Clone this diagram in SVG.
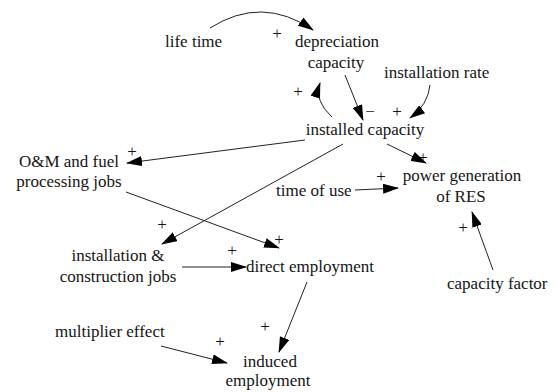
<svg xmlns="http://www.w3.org/2000/svg" width="558" height="392" viewBox="0 0 558 392">
  <style>
    text { font-family: 'Liberation Serif', 'Times New Roman', serif; font-size: 17px; fill: #151515; }
    .lbl { text-anchor: middle; }
    .sign { text-anchor: middle; }
    .link { fill: none; stroke: #222; stroke-width: 1; marker-end: url(#head); }
  </style>
  <defs>
    <marker id="head" markerUnits="userSpaceOnUse" markerWidth="16" markerHeight="10" viewBox="0 0 16 10" refX="15" refY="5" orient="auto">
      <path d="M0,0 L16,5 L0,10 Z" fill="#000"/>
    </marker>
  </defs>

  <!-- causal links -->
  <g id="connectors">
    <path class="link" d="M210,28 Q262,-5 313,30"/>
    <path class="link" d="M332,117 Q314,101 320,83"/>
    <path class="link" d="M345,75 L363,120"/>
    <path class="link" d="M430,85 Q428,105 410,118"/>
    <path class="link" d="M305,140 L127,163"/>
    <path class="link" d="M343,144 L162,244"/>
    <path class="link" d="M387,144 L426,163"/>
    <path class="link" d="M355,190 L398,188"/>
    <path class="link" d="M126,192 L279,248"/>
    <path class="link" d="M182,267 L246,267"/>
    <path class="link" d="M307,282 L279,352"/>
    <path class="link" d="M161,346 L227,363"/>
    <path class="link" d="M493,270 L472,212"/>
  </g>

  <!-- polarity signs -->
  <g id="polarities">
    <text class="sign" x="277" y="39">+</text>
    <text class="sign" x="298" y="97">+</text>
    <text class="sign" x="370" y="117">−</text>
    <text class="sign" x="397" y="117">+</text>
    <text class="sign" x="132" y="157">+</text>
    <text class="sign" x="162" y="230">+</text>
    <text class="sign" x="423" y="163">+</text>
    <text class="sign" x="381" y="182">+</text>
    <text class="sign" x="279" y="245">+</text>
    <text class="sign" x="232" y="256">+</text>
    <text class="sign" x="265" y="332">+</text>
    <text class="sign" x="220" y="347">+</text>
    <text class="sign" x="463" y="233">+</text>
  </g>

  <!-- variables -->
  <g id="life-time"><text x="165" y="47">life time</text></g>
  <g id="depreciation-capacity">
    <text class="lbl" x="337" y="47">depreciation</text>
    <text class="lbl" x="336" y="68">capacity</text>
  </g>
  <g id="installation-rate"><text x="384" y="78">installation rate</text></g>
  <g id="installed-capacity"><text class="lbl" x="365" y="135">installed capacity</text></g>
  <g id="om-jobs">
    <text class="lbl" x="69" y="167">O&amp;M and fuel</text>
    <text class="lbl" x="69" y="187">processing jobs</text>
  </g>
  <g id="time-of-use"><text x="276" y="196">time of use</text></g>
  <g id="power-generation">
    <text class="lbl" x="462" y="181">power generation</text>
    <text class="lbl" x="461" y="202">of RES</text>
  </g>
  <g id="installation-jobs">
    <text class="lbl" x="118" y="261">installation &amp;</text>
    <text class="lbl" x="118" y="282">construction jobs</text>
  </g>
  <g id="direct-employment"><text x="246" y="272">direct employment</text></g>
  <g id="capacity-factor"><text x="447" y="289">capacity factor</text></g>
  <g id="multiplier-effect"><text x="55" y="337">multiplier effect</text></g>
  <g id="induced-employment">
    <text class="lbl" x="270" y="367">induced</text>
    <text class="lbl" x="268" y="386">employment</text>
  </g>
</svg>
